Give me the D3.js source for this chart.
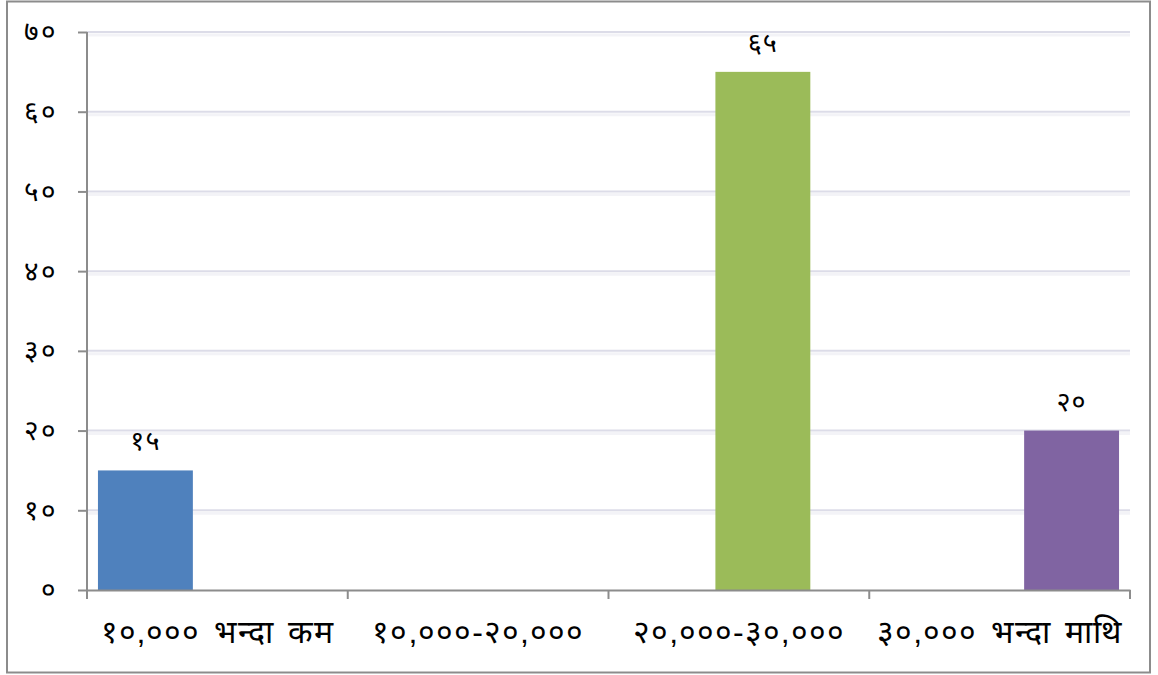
<!DOCTYPE html>
<html>
<head>
<meta charset="utf-8">
<script src="https://cdn.jsdelivr.net/npm/d3@7"></script>
<style>
  html, body { margin: 0; padding: 0; background: #fff; }
  svg { display: block; font-family: "Noto Sans", "Noto Sans CJK SC", sans-serif; }
</style>
</head>
<body>
<div id="chart"></div>
<script>
// Income groups (Nepali), one Excel-style series per group
const categories = ["१०,००० भन्दा कम", "१०,०००-२०,०००", "२०,०००-३०,०००", "३०,००० भन्दा माथि"];
const values = [15, null, 65, 20];
const colors = ["#4f81bd", "#c0504d", "#9bbb59", "#8064a2"];
const yTicks = [0, 10, 20, 30, 40, 50, 60, 70];

const devDigits = "०१२३४५६७८९";
const toDev = n => String(n).replace(/[0-9]/g, d => devDigits[+d]);

(function () {
  const W = 1158, H = 675;
  const margin = { top: 32, right: 28, bottom: 85, left: 87 };
  const width = W - margin.left - margin.right;
  const height = H - margin.top - margin.bottom;

  const svg = d3.select("#chart").append("svg")
    .attr("width", W).attr("height", H);

  // outer frame
  svg.append("rect")
    .attr("x", 7).attr("y", 1.5).attr("width", 1143).attr("height", 671)
    .attr("fill", "#fff").attr("stroke", "#8c8c8c").attr("stroke-width", 2);

  const g = svg.append("g").attr("transform", `translate(${margin.left},${margin.top})`);

  const x = d3.scaleBand().domain(categories).range([0, width]).padding(0);
  const y = d3.scaleLinear().domain([0, 70]).range([height, 0]);

  // clustered layout: 4 series, gap and 50% overlap like the source
  const bw = x.bandwidth();
  const gap = bw * 0.084, barW = bw * 0.364;
  const step = (bw - gap - barW) / (categories.length - 1);

  // gridlines
  g.append("g").selectAll("line.shadow")
    .data(yTicks.slice(1))
    .join("line")
    .attr("x1", 0).attr("x2", width)
    .attr("y1", d => y(d) + 3).attr("y2", d => y(d) + 3)
    .attr("stroke", "#f3f3f7").attr("stroke-width", 3);
  g.append("g").selectAll("line.grid")
    .data(yTicks.slice(1))
    .join("line")
    .attr("x1", 0).attr("x2", width)
    .attr("y1", d => y(d)).attr("y2", d => y(d))
    .attr("stroke", "#dcdce8").attr("stroke-width", 2);

  // bars
  const data = categories.map((c, i) => ({ c, i, v: values[i] })).filter(d => d.v != null);
  g.selectAll("rect.bar")
    .data(data)
    .join("rect")
    .attr("x", d => x(d.c) + gap / 2 + d.i * step)
    .attr("y", d => y(d.v))
    .attr("width", barW)
    .attr("height", d => y(0) - y(d.v))
    .attr("fill", d => colors[d.i]);

  g.selectAll("text.lbl")
    .data(data)
    .join("text")
    .attr("x", d => x(d.c) + gap / 2 + d.i * step + barW / 2)
    .attr("y", d => y(d.v) - 20)
    .attr("text-anchor", "middle")
    .attr("font-size", "27px").attr("letter-spacing", "1px").attr("fill", "#000")
    .text(d => toDev(d.v));

  // axes
  const yAxis = g.append("g")
    .call(d3.axisLeft(y).tickValues(yTicks).tickSize(9).tickPadding(21).tickFormat(toDev));
  yAxis.select(".domain").remove();
  yAxis.selectAll(".tick line").attr("stroke", "#8c8c8c").attr("stroke-width", 2).attr("x2", -9);
  yAxis.selectAll(".tick text").attr("font-size", "28px").attr("letter-spacing", "1.5px")
    .attr("fill", "#000").attr("font-family", null);
  g.append("line").attr("x1", 0).attr("x2", 0).attr("y1", 0).attr("y2", height + 9)
    .attr("stroke", "#8c8c8c").attr("stroke-width", 2);

  const xAxis = g.append("g").attr("transform", `translate(0,${height})`)
    .call(d3.axisBottom(x).tickSize(0).tickPadding(30));
  xAxis.select(".domain").attr("stroke", "#8c8c8c").attr("stroke-width", 2);
  xAxis.selectAll(".tick text").attr("font-size", "32px").attr("letter-spacing", "1px")
    .attr("word-spacing", "4px").attr("fill", "#000").attr("font-family", null);
  g.append("g").selectAll("line")
    .data(categories.slice(1).concat([null]))
    .join("line")
    .attr("x1", d => d == null ? width : x(d)).attr("x2", d => d == null ? width : x(d))
    .attr("y1", height).attr("y2", height + 9)
    .attr("stroke", "#8c8c8c").attr("stroke-width", 2);
})();
</script>
</body>
</html>
